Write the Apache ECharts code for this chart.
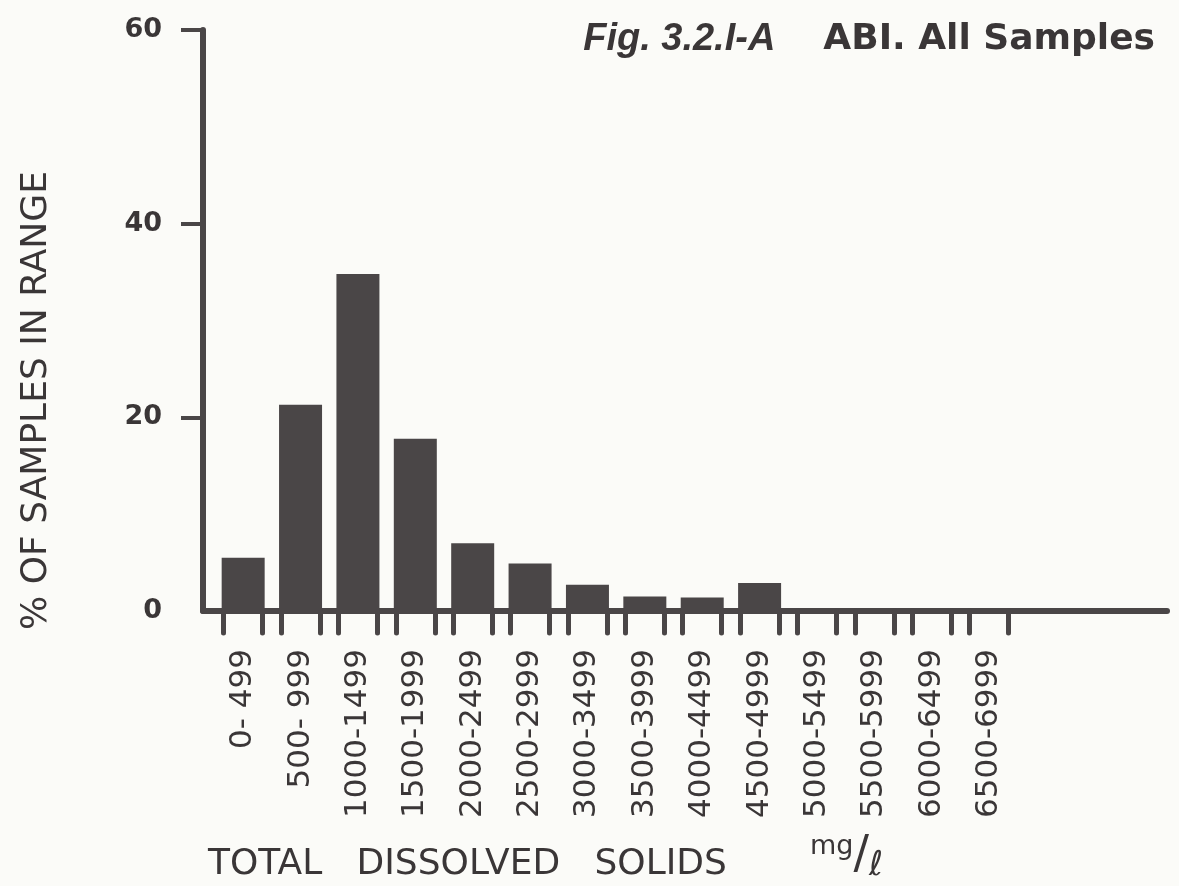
<!DOCTYPE html>
<html>
<head>
<meta charset="utf-8">
<title>ABI. All Samples</title>
<script src="https://cdn.jsdelivr.net/npm/echarts@6/dist/echarts.min.js"></script>
<style>
  html, body { margin: 0; padding: 0; background: #fbfbf8; }
  #chart { width: 1179px; height: 886px; }
</style>
</head>
<body>
<div id="chart"></div>
<script>
// TDS ranges (mg/l): lower bound of each 500 mg/l class and its printed label
const rangeStarts = [0, 500, 1000, 1500, 2000, 2500, 3000, 3500, 4000, 4500, 5000, 5500, 6000, 6500];
const rangeLabels = ['0- 499', '500- 999', '1000-1499', '1500-1999', '2000-2499', '2500-2999',
  '3000-3499', '3500-3999', '4000-4499', '4500-4999', '5000-5499', '5500-5999', '6000-6499', '6500-6999'];
// % of samples falling in each range
const percentInRange = [5.5, 21.3, 34.8, 17.8, 7.0, 4.9, 2.7, 1.5, 1.4, 2.9, 0, 0, 0, 0];
// y-axis tick labels
const yTicks = [0, 20, 40, 60];

const INK = '#4a4647';
const TEXT = '#3a3637';
const HAND = '"DejaVu Sans", "Noto Sans", sans-serif';

const classWidth = 500;
const centers = rangeStarts.map(s => s + classWidth / 2);
// short marks under the axis at both sides of every class bar
const edgeTicks = [];
centers.forEach(c => { edgeTicks.push(c - 170, c + 170); });

const chart = echarts.init(document.getElementById('chart'), null, { renderer: 'canvas' });

chart.setOption({
  backgroundColor: '#fbfbf8',
  animation: false,
  title: [
    {
      right: 19, top: 16,
      text: '{fig|Fig. 3.2.I-A}{abi|ABI. All Samples}',
      textStyle: {
        rich: {
          fig: { fontFamily: '"Liberation Sans", sans-serif', fontStyle: 'italic', fontWeight: 'bold', fontSize: 38, color: TEXT, padding: [0, 48, 0, 0] },
          abi: { fontFamily: '"DejaVu Sans", sans-serif', fontWeight: 'bold', fontSize: 36, color: TEXT }
        }
      }
    },
    {
      left: 203, top: 842,
      text: 'TOTAL   DISSOLVED   SOLIDS',
      textStyle: { fontFamily: HAND, fontWeight: 'normal', fontSize: 36, color: TEXT }
    },
    {
      left: 805, top: 824,
      text: '{u|mg}{s|/}{l|ℓ}',
      textStyle: {
        rich: {
          u: { fontFamily: HAND, fontWeight: 'normal', fontSize: 27, color: TEXT, padding: [0, 0, 18, 0] },
          s: { fontFamily: HAND, fontWeight: 'normal', fontSize: 46, color: TEXT },
          l: { fontFamily: HAND, fontWeight: 'normal', fontSize: 34, color: TEXT, padding: [20, 0, 0, 0] }
        }
      }
    }
  ],
  grid: { left: 203, right: 12, top: 30, bottom: 275, containLabel: false },
  xAxis: {
    type: 'value',
    min: -100,
    max: 8300,
    splitLine: { show: false },
    axisLine: { show: true, onZero: false, lineStyle: { color: INK, width: 6, cap: 'round' } },
    axisTick: {
      show: true,
      customValues: edgeTicks,
      length: 22,
      lineStyle: { color: INK, width: 5, cap: 'round' }
    },
    axisLabel: {
      customValues: centers,
      rotate: 90,
      margin: 38,
      fontFamily: HAND,
      fontSize: 31,
      color: TEXT,
      formatter: v => {
        const i = centers.indexOf(v);
        return i >= 0 ? rangeLabels[i] : '';
      }
    }
  },
  yAxis: {
    type: 'value',
    min: 0,
    max: 60,
    interval: 20,
    splitLine: { show: false },
    axisLine: { show: true, onZero: false, lineStyle: { color: INK, width: 6, cap: 'round' } },
    axisTick: {
      show: true,
      customValues: yTicks.filter(v => v > 0),
      length: 22,
      lineStyle: { color: INK, width: 4 }
    },
    axisLabel: {
      customValues: yTicks,
      margin: 41,
      fontFamily: HAND,
      fontWeight: 'bold',
      fontSize: 27,
      color: TEXT
    },
    name: '% OF SAMPLES IN RANGE',
    nameLocation: 'middle',
    nameRotate: 90,
    nameGap: 148,
    nameTextStyle: { fontFamily: HAND, fontSize: 36, color: TEXT, padding: [0, 160, 0, 0] }
  },
  series: [{
    type: 'bar',
    barWidth: 43,
    itemStyle: { color: INK },
    data: centers.map((c, i) => [c, percentInRange[i]])
  }]
});
</script>
</body>
</html>
